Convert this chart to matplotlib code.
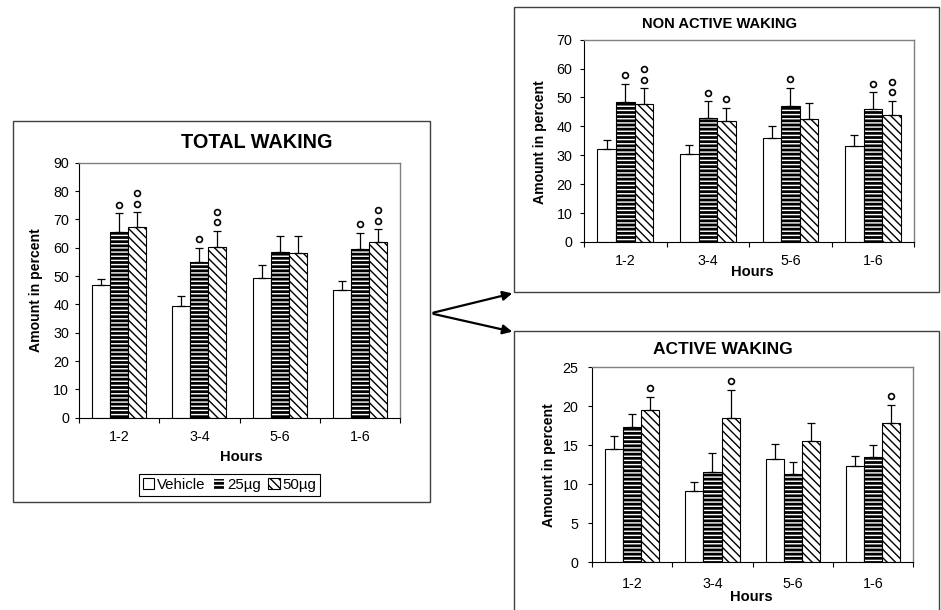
import numpy as np
import matplotlib
matplotlib.use("Agg")
import matplotlib.pyplot as plt
from matplotlib.patches import Rectangle, FancyArrowPatch, Patch
from matplotlib.transforms import offset_copy

plt.rcParams['font.family'] = ['Liberation Sans', 'DejaVu Sans']
plt.rcParams['hatch.linewidth'] = 1.0

W, H = 941, 610
categories = ['1-2', '3-4', '5-6', '1-6']
series_names = ['Vehicle', '25µg', '50µg']

# total waking
total_vehicle = [46.7, 39.3, 49.2, 45.2]
total_vehicle_err = [2.3, 3.7, 4.6, 3.2]
total_25 = [65.4, 54.8, 58.4, 59.4]
total_25_err = [6.7, 5.2, 5.8, 5.9]
total_50 = [67.3, 60.1, 58.2, 61.9]
total_50_err = [5.2, 5.8, 5.8, 4.6]
total_sig_25 = [1, 1, 0, 1]
total_sig_50 = [2, 2, 0, 2]

# non active waking
nonactive_vehicle = [32.2, 30.4, 36.0, 33.1]
nonactive_vehicle_err = [3.2, 3.2, 4.2, 3.8]
nonactive_25 = [48.3, 43.0, 47.2, 46.0]
nonactive_25_err = [6.4, 5.7, 6.1, 5.9]
nonactive_50 = [47.7, 41.7, 42.6, 44.1]
nonactive_50_err = [5.5, 4.8, 5.5, 4.8]
nonactive_sig_25 = [1, 1, 1, 1]
nonactive_sig_50 = [2, 1, 0, 2]

# active waking
active_vehicle = [14.5, 9.1, 13.2, 12.4]
active_vehicle_err = [1.7, 1.2, 2.0, 1.2]
active_25 = [17.3, 11.6, 11.3, 13.5]
active_25_err = [1.7, 2.4, 1.6, 1.6]
active_50 = [19.5, 18.5, 15.5, 17.9]
active_50_err = [1.7, 3.6, 2.3, 2.3]
active_sig_25 = [0, 0, 0, 0]
active_sig_50 = [1, 1, 0, 1]


def fx(x):
    return x / W


def fy(y):
    return 1 - y / H


def ax_rect(x0, y0, x1, y1):
    return [fx(x0), fy(y1), (x1 - x0) / W, (y1 - y0) / H]


fig = plt.figure(figsize=(W / 100, H / 100), dpi=100)


def draw_panel(ax, vals, errs, sigs, ymax, ystep, xpad, ypad):
    x = np.arange(len(categories))
    w = 0.225
    for i, (v, e, s) in enumerate(zip(vals, errs, sigs)):
        pos = x + (i - 1) * w
        if i == 0:
            ax.bar(pos, v, w, color='white', edgecolor='black', linewidth=0.8, zorder=2)
        elif i == 1:
            ax.bar(pos, v, w, color='black', edgecolor='white', hatch='----', linewidth=0, zorder=2)
            ax.bar(pos, v, w, fill=False, edgecolor='black', linewidth=0.8, zorder=2)
        else:
            ax.bar(pos, v, w, color='white', edgecolor='black', hatch='\\\\\\\\', linewidth=0.8, zorder=2)
        ax.errorbar(pos, v, yerr=[np.zeros(len(v)), e], fmt='none', ecolor='black',
                    elinewidth=0.9, capsize=3.2, capthick=0.9, zorder=3)
        tops = np.array(v) + np.array(e)
        for p, t, n in zip(pos, tops, s):
            for k in range(n):
                tr = offset_copy(ax.transData, fig=fig, y=8.5 + 10.5 * k, units='dots')
                ax.plot([p], [t], marker='o', ms=4.2, mfc='white', mec='black', mew=1.2,
                        transform=tr, clip_on=False, zorder=4)
    ax.set_xlim(-0.5, len(categories) - 0.5)
    ax.set_ylim(0, ymax)
    ax.set_yticks(np.arange(0, ymax + 0.1, ystep))
    ax.set_xticks(np.arange(-0.5, len(categories), 1))
    ax.set_xticklabels([])
    ax.set_xticks(x, minor=True)
    ax.set_xticklabels(categories, minor=True)
    ax.tick_params(axis='x', which='major', direction='out', length=3.3, width=0.8)
    ax.tick_params(axis='x', which='minor', length=0, pad=xpad, labelsize=10.3)
    ax.tick_params(axis='y', direction='out', length=2.7, width=0.8, pad=ypad, labelsize=10.3)
    for side in ['left', 'bottom']:
        ax.spines[side].set_color('black')
        ax.spines[side].set_linewidth(0.8)
    for side in ['top', 'right']:
        ax.spines[side].set_color('#808080')
        ax.spines[side].set_linewidth(1.0)


ax1 = fig.add_axes(ax_rect(79, 162.7, 400, 417.7))
draw_panel(ax1, [total_vehicle, total_25, total_50],
           [total_vehicle_err, total_25_err, total_50_err],
           [[0, 0, 0, 0], total_sig_25, total_sig_50], 90, 10, 9, 4.5)

ax2 = fig.add_axes(ax_rect(584, 39.7, 914.3, 242))
draw_panel(ax2, [nonactive_vehicle, nonactive_25, nonactive_50],
           [nonactive_vehicle_err, nonactive_25_err, nonactive_50_err],
           [[0, 0, 0, 0], nonactive_sig_25, nonactive_sig_50], 70, 10, 9, 5.5)

ax3 = fig.add_axes(ax_rect(592, 367.3, 913.3, 562.3))
draw_panel(ax3, [active_vehicle, active_25, active_50],
           [active_vehicle_err, active_25_err, active_50_err],
           [[0, 0, 0, 0], active_sig_25, active_sig_50], 25, 5, 10.5, 7)

# titles and axis labels
fig.text(fx(256.7), fy(142), 'TOTAL WAKING', ha='center', va='center', fontsize=14.3, fontweight='bold')
fig.text(fx(720), fy(24.3), 'NON ACTIVE WAKING', ha='center', va='center', fontsize=10.6, fontweight='bold')
fig.text(fx(723.3), fy(349.3), 'ACTIVE WAKING', ha='center', va='center', fontsize=12.5, fontweight='bold')
for (x, y) in [(36, 290), (540, 141.7), (549, 465)]:
    fig.text(fx(x), fy(y), 'Amount in percent', ha='center', va='center', rotation=90,
             fontsize=10.1, fontweight='bold')
for (x, y) in [(241.7, 457), (752, 271.7), (751.7, 596.7)]:
    fig.text(fx(x), fy(y), 'Hours', ha='center', va='center', fontsize=10.6, fontweight='bold')

# panel frames
for (x0, y0, x1, y1) in [(12.5, 120.7, 430, 501.7), (514, 7, 939, 292), (514, 330.7, 939, 640)]:
    fig.patches.append(Rectangle((fx(x0), fy(y1)), (x1 - x0) / W, (y1 - y0) / H,
                                 transform=fig.transFigure, fill=False,
                                 edgecolor='#404040', linewidth=1.0))

# arrows
for tip in [(515, 292.7), (515, 332.3)]:
    fig.patches.append(FancyArrowPatch((fx(430.7), fy(313.3)), (fx(tip[0]), fy(tip[1])),
                                       transform=fig.transFigure, arrowstyle='-|>',
                                       mutation_scale=14, linewidth=1.6, color='black'))

# legend
handles = [Patch(facecolor='white', edgecolor='black', linewidth=0.8),
           Patch(facecolor='black', edgecolor='white', hatch='----', linewidth=0.8),
           Patch(facecolor='white', edgecolor='black', hatch='\\\\\\\\', linewidth=0.8)]
leg = fig.legend(handles, series_names, loc='center', bbox_to_anchor=(fx(229.5), fy(485)),
                 ncol=3, fontsize=10.8, handlelength=0.75, handleheight=0.75,
                 handletextpad=0.2, columnspacing=0.5, borderpad=0.25,
                 fancybox=False, edgecolor='black', framealpha=1)
leg.get_frame().set_linewidth(0.8)

fig.savefig('out.png', dpi=100)
